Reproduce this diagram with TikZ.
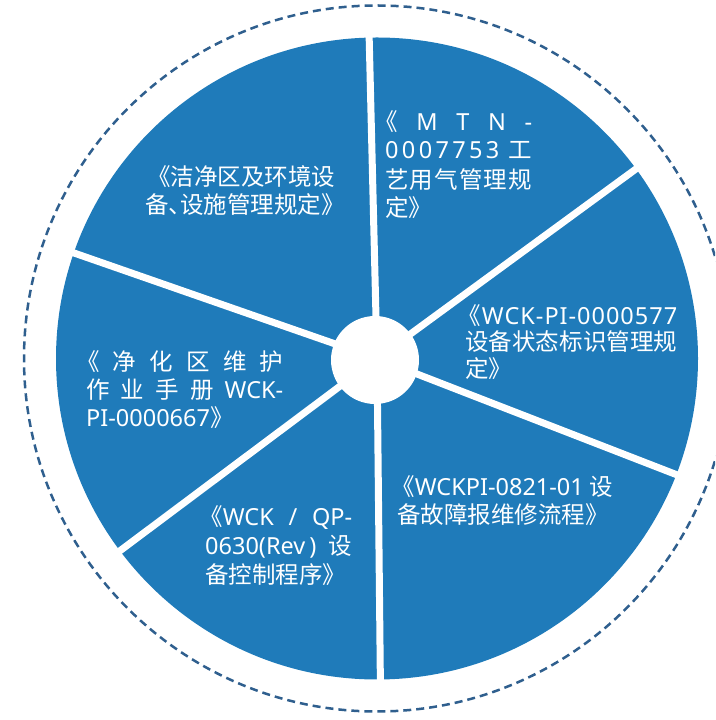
\documentclass[tikz,border=0pt]{standalone}
\usepackage{fontspec}
\newfontfamily\cjk{Noto Sans CJK SC}
\newfontfamily\latn{Noto Sans}
\definecolor{pieblue}{HTML}{1F7BBA}
\definecolor{dashblue}{HTML}{2F5F8E}
\newcommand\jline[2]{\makebox[#1][s]{#2}}
\newcommand\lb{\kern-0.42em《}
\newcommand\rb{》}
\makeatletter
\def\sp@stop{\sp@stop}
\newcommand\spreadtok[1]{\sp@first#1\sp@stop}
\def\sp@first#1{{#1}\sp@loop}
\def\sp@loop#1{\ifx\sp@stop#1\else\hfil{#1}\expandafter\sp@loop\fi}
\makeatother
\begin{document}
\begin{tikzpicture}[x=1pt,y=1pt,
  spoke/.style={white,line width=7pt},
  lbl/.style={anchor=west,inner sep=0pt,text=white,font=\cjk\fontsize{23.5}{26}\selectfont},
  lblc/.style={lbl,anchor=center}]
\useasboundingbox (0,0) rectangle (715,720);
\clip (0,0) rectangle (715,720);
\coordinate (c) at (377,361.5);
% outer dashed ring
\draw[dashblue,line width=2.5pt,dash pattern=on 8pt off 5pt] (c) circle (353);
% pie
\fill[pieblue] (c) circle (321);
% spokes
\draw[spoke] (c) -- ++(91.4:330);
\draw[spoke] (c) -- ++(36.2:330);
\draw[spoke] (c) -- ++(-21.2:330);
\draw[spoke] (c) -- ++(270.6:330);
\draw[spoke] (c) -- ++(216.8:330);
\draw[spoke] (c) -- ++(160.8:330);
% hub
\fill[white] (375,360) circle (44);
% block A
\node[lblc] (a1) at (246,543) {\lb 洁净区及环境设};
\node[lblc] (a2) at (245,515) {备、\kern-0.5em设施管理规定\rb};
% block B
\node[lbl] (b1) at (384,598) {\jline{148pt}{\lb\hfil{\latn M}\hfil{\latn T}\hfil{\latn N}\hfil{\latn -}}};
\node[lbl] (b2) at (385,570) {\jline{147pt}{{\latn\spreadtok{0007753}}\hfil\hspace{6pt}工}};
\node[lbl] (b3) at (385,540) {\jline{147pt}{\spreadtok{艺用气管理规}}};
\node[lbl] (b4) at (385,512) {定\rb};
% block C
\node[lbl] (c1) at (467,404.5) {\jline{210pt}{\lb\hfil\latn\spreadtok{WCK-PI-0000577}}};
\node[lbl] (c2) at (465,378) {\jline{212pt}{\spreadtok{设备状态标识管理规}}};
\node[lbl] (c3) at (465,351.5) {定\rb};
% block D
\node[lbl] (d1) at (86,358) {\jline{197pt}{\lb\hfil 净\hfil 化\hfil 区\hfil 维\hfil 护}};
\node[lbl] (d2) at (86,330) {\jline{197pt}{作\hfil 业\hfil 手\hfil 册\hfil{\latn WCK-}}};
\node[lbl] (d3) at (86,302) {{\latn PI-0000667}\rb};
% block E
\node[lbl] (e1) at (401,233) {\lb{\latn WCKPI-0821-01} 设};
\node[lbl] (e2) at (397,205) {备故障报维修流程\rb};
% block F
\node[lbl] (f1) at (209,202) {\jline{143pt}{\lb\latn WCK / QP-}};
\node[lbl] (f2) at (205,173) {\jline{147pt}{{\latn 0630(Rev\kern4pt)} 设}};
\node[lbl] (f3) at (205,145) {备控制程序\rb};
\end{tikzpicture}
\end{document}
